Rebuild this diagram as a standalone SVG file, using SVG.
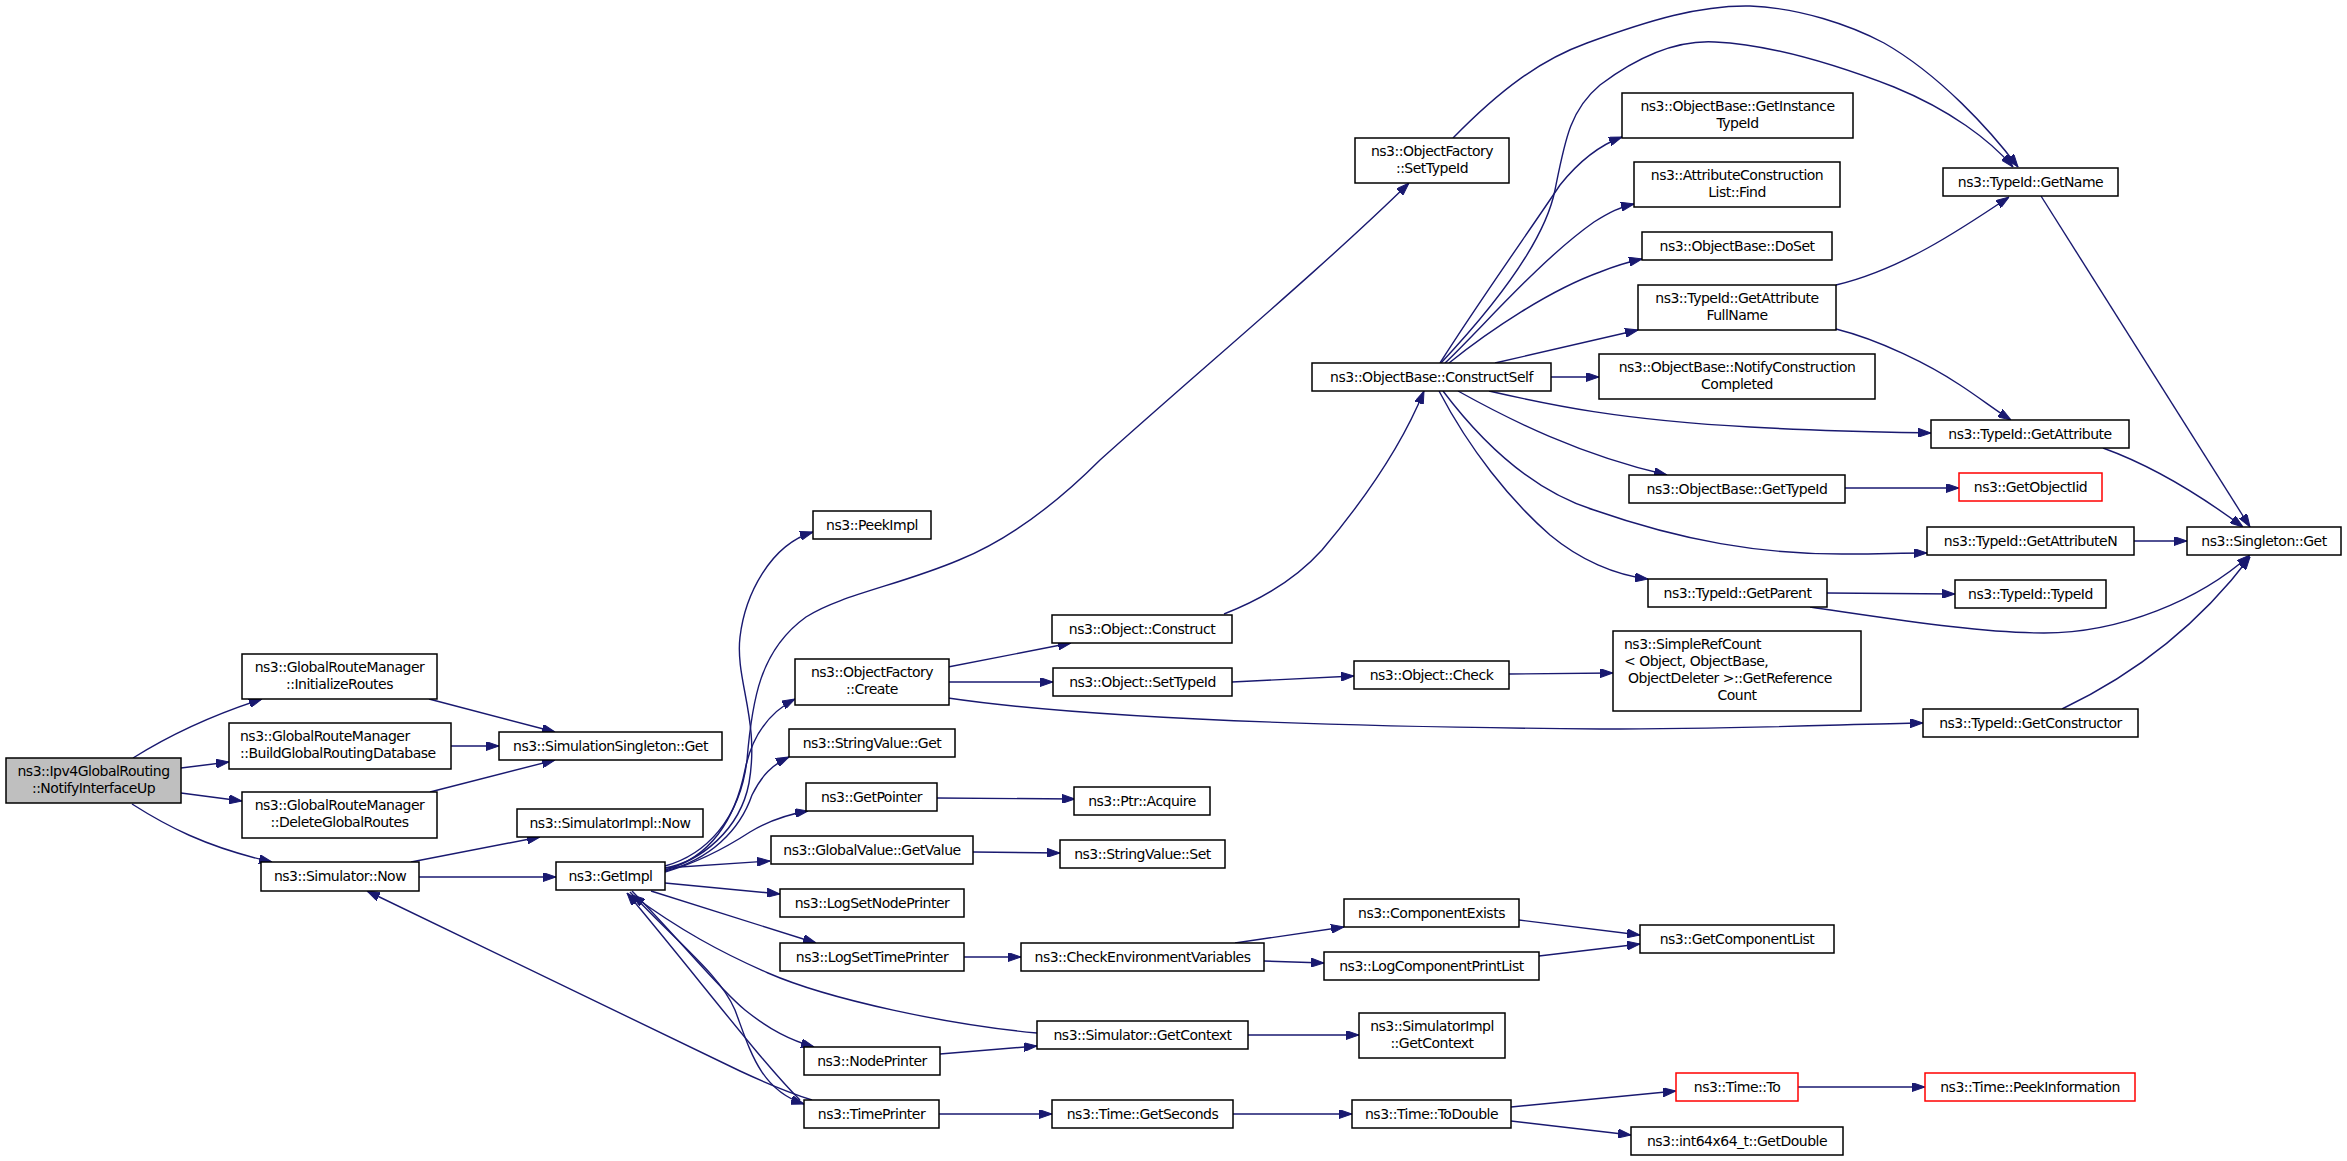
<svg xmlns="http://www.w3.org/2000/svg" width="2347" height="1161" viewBox="0 0 2347 1161">
<defs>
<marker id="ah" viewBox="0 0 13 9" refX="13" refY="4.5" markerWidth="13" markerHeight="9" markerUnits="userSpaceOnUse" orient="auto">
<path d="M0,0 L13,4.5 L0,9 z" fill="#191970" stroke="#191970" stroke-width="1"/>
</marker>
<style>
.n rect{fill:#ffffff;stroke:#000000;stroke-width:1.5}
.n.root rect{fill:#bfbfbf}
.n.red rect{stroke:#ff0000}
.n text{font-family:"DejaVu Sans","Liberation Sans",sans-serif;font-size:14px;letter-spacing:-0.5px;fill:#000000;text-anchor:middle}
.n text.l{text-anchor:start}
#edges path{fill:none;stroke:#191970;stroke-width:1.4;marker-end:url(#ah)}
</style>
</defs>
<rect x="0" y="0" width="2347" height="1161" fill="#ffffff"/>
<g id="edges">
<path d="M133,758 C160,741 200,719 262,699"/>
<path d="M181,768 L229,762"/>
<path d="M181,793 L242,801"/>
<path d="M132,804 C165,825 205,847 272,862"/>
<path d="M429,699 L555,732"/>
<path d="M451,746 L499,746"/>
<path d="M430,792 L555,760"/>
<path d="M411,862 L540,837"/>
<path d="M419,877 L556,877"/>
<path d="M812,1100 C790,1093 770,1085 740,1071 L367,891"/>
<path d="M665,868 C700,862 740,830 749,783 C760,720 735,680 740,637 C745,595 770,545 813,532"/>
<path d="M665,866 C705,855 740,820 747,760 C752,700 760,650 806,617 C840,595 900,585 959,560 C1020,535 1070,490 1100,460 C1200,370 1320,270 1409,183"/>
<path d="M665,870 C710,858 735,820 745,770 C752,735 770,712 795,699"/>
<path d="M665,871 C710,860 740,830 752,795 C762,775 772,765 789,757"/>
<path d="M665,872 C700,862 730,845 750,832 C770,820 790,814 808,811"/>
<path d="M665,868 L770,861"/>
<path d="M665,883 L780,894"/>
<path d="M651,891 L816,943"/>
<path d="M632,891 C680,940 720,990 745,1010 C770,1030 790,1040 814,1047"/>
<path d="M630,892 C680,945 720,975 735,1010 C750,1050 760,1090 804,1104"/>
<path d="M800,1100 C760,1060 700,980 627,893"/>
<path d="M1037,1033 C950,1025 830,1000 768,973 C720,952 680,930 632,895"/>
<path d="M948,667 L1071,643"/>
<path d="M948,682 L1053,682"/>
<path d="M948,698 C1050,713 1250,726 1600,729 C1750,729 1850,724 1923,723"/>
<path d="M1224,614 C1260,600 1295,580 1322,550 C1360,505 1400,450 1424,391"/>
<path d="M1232,682 L1354,676"/>
<path d="M1509,674 L1613,673"/>
<path d="M1453,138 C1500,90 1540,60 1587,43 C1650,20 1700,5 1750,6 C1800,8 1850,25 1884,43 C1940,75 1990,130 2018,167"/>
<path d="M1441,363 C1500,300 1545,240 1555,190 C1565,140 1570,110 1600,85 C1640,55 1680,40 1715,42 C1780,45 1850,70 1894,87 C1950,110 1990,140 2013,167"/>
<path d="M1440,363 C1480,300 1530,230 1560,185 C1580,160 1600,145 1622,137"/>
<path d="M1445,363 C1480,330 1540,260 1594,222 C1610,212 1620,207 1634,204"/>
<path d="M1449,363 C1490,330 1550,290 1600,272 C1615,266 1628,262 1642,259"/>
<path d="M1495,363 L1638,330"/>
<path d="M1551,377 L1599,377"/>
<path d="M1489,391 C1550,405 1620,420 1750,427 C1820,431 1880,432 1931,433"/>
<path d="M1458,391 C1510,420 1580,455 1667,475"/>
<path d="M1443,391 C1480,440 1530,490 1594,510 C1680,540 1760,555 1850,554 C1880,554 1900,553 1927,553"/>
<path d="M1439,391 C1470,450 1510,500 1550,535 C1580,560 1615,575 1648,579"/>
<path d="M1836,285 C1900,270 1960,230 2009,197"/>
<path d="M1836,329 C1880,340 1930,365 1960,385 C1980,398 1995,410 2011,420"/>
<path d="M2041,196 L2250,527"/>
<path d="M2103,448 C2150,465 2200,495 2243,527"/>
<path d="M2134,541 L2187,541"/>
<path d="M1845,488 L1959,488"/>
<path d="M1827,593 L1955,594"/>
<path d="M1810,607 C1900,620 1980,633 2044,633 C2120,633 2200,600 2250,555"/>
<path d="M2062,709 C2150,667 2210,610 2250,557"/>
<path d="M937,798 L1075,799"/>
<path d="M973,852 L1060,853"/>
<path d="M964,957 L1021,957"/>
<path d="M1235,943 L1344,927"/>
<path d="M1264,961 L1324,963"/>
<path d="M1519,920 L1640,935"/>
<path d="M1539,956 L1640,944"/>
<path d="M940,1054 L1037,1046"/>
<path d="M1248,1035 L1359,1035"/>
<path d="M939,1114 L1052,1114"/>
<path d="M1233,1114 L1352,1114"/>
<path d="M1511,1107 L1676,1091"/>
<path d="M1511,1121 L1631,1135"/>
<path d="M1798,1087 L1925,1087"/>
</g>
<g id="n_ipv4" class="n root"><rect x="6" y="758" width="175" height="45"/><text x="93.5" y="775.5">ns3::Ipv4GlobalRouting</text><text x="93.5" y="792.5">::NotifyInterfaceUp</text></g>
<g id="n_initroutes" class="n"><rect x="242" y="654" width="195" height="45"/><text x="339.5" y="671.5">ns3::GlobalRouteManager</text><text x="339.5" y="688.5">::InitializeRoutes</text></g>
<g id="n_builddb" class="n"><rect x="229" y="723" width="222" height="46"/><text class="l" x="240" y="740.5">ns3::GlobalRouteManager</text><text class="l" x="240" y="757.5">::BuildGlobalRoutingDatabase</text></g>
<g id="n_deleteroutes" class="n"><rect x="242" y="792" width="195" height="46"/><text x="339.5" y="809.5">ns3::GlobalRouteManager</text><text x="339.5" y="826.5">::DeleteGlobalRoutes</text></g>
<g id="n_simsingleton" class="n"><rect x="499" y="732" width="223" height="28"/><text x="610.5" y="751">ns3::SimulationSingleton::Get</text></g>
<g id="n_simnow" class="n"><rect x="261" y="862" width="158" height="29"/><text x="340" y="881">ns3::Simulator::Now</text></g>
<g id="n_simimplnow" class="n"><rect x="517" y="809" width="186" height="28"/><text x="610" y="828">ns3::SimulatorImpl::Now</text></g>
<g id="n_getimpl" class="n"><rect x="556" y="862" width="109" height="28"/><text x="610.5" y="881">ns3::GetImpl</text></g>
<g id="n_peekimpl" class="n"><rect x="813" y="511" width="118" height="28"/><text x="872" y="530">ns3::PeekImpl</text></g>
<g id="n_ofcreate" class="n"><rect x="795" y="659" width="154" height="46"/><text x="872" y="676.5">ns3::ObjectFactory</text><text x="872" y="693.5">::Create</text></g>
<g id="n_svget" class="n"><rect x="789" y="729" width="166" height="28"/><text x="872" y="748">ns3::StringValue::Get</text></g>
<g id="n_getpointer" class="n"><rect x="806" y="783" width="131" height="28"/><text x="871.5" y="802">ns3::GetPointer</text></g>
<g id="n_gvgetvalue" class="n"><rect x="771" y="836" width="202" height="28"/><text x="872" y="855">ns3::GlobalValue::GetValue</text></g>
<g id="n_logsetnode" class="n"><rect x="780" y="889" width="184" height="28"/><text x="872" y="908">ns3::LogSetNodePrinter</text></g>
<g id="n_logsettime" class="n"><rect x="780" y="943" width="184" height="28"/><text x="872" y="962">ns3::LogSetTimePrinter</text></g>
<g id="n_nodeprinter" class="n"><rect x="804" y="1047" width="136" height="28"/><text x="872" y="1066">ns3::NodePrinter</text></g>
<g id="n_timeprinter" class="n"><rect x="804" y="1100" width="135" height="28"/><text x="871.5" y="1119">ns3::TimePrinter</text></g>
<g id="n_ofsettypeid" class="n"><rect x="1355" y="138" width="154" height="45"/><text x="1432" y="155.5">ns3::ObjectFactory</text><text x="1432" y="172.5">::SetTypeId</text></g>
<g id="n_objconstruct" class="n"><rect x="1052" y="615" width="180" height="28"/><text x="1142" y="634">ns3::Object::Construct</text></g>
<g id="n_objsettypeid" class="n"><rect x="1053" y="668" width="179" height="28"/><text x="1142.5" y="687">ns3::Object::SetTypeId</text></g>
<g id="n_ptracquire" class="n"><rect x="1074" y="787" width="136" height="28"/><text x="1142" y="806">ns3::Ptr::Acquire</text></g>
<g id="n_svset" class="n"><rect x="1060" y="840" width="165" height="28"/><text x="1142.5" y="859">ns3::StringValue::Set</text></g>
<g id="n_checkenv" class="n"><rect x="1021" y="943" width="243" height="28"/><text x="1142.5" y="962">ns3::CheckEnvironmentVariables</text></g>
<g id="n_simgetcontext" class="n"><rect x="1037" y="1021" width="211" height="28"/><text x="1142.5" y="1040">ns3::Simulator::GetContext</text></g>
<g id="n_getseconds" class="n"><rect x="1052" y="1100" width="181" height="28"/><text x="1142.5" y="1119">ns3::Time::GetSeconds</text></g>
<g id="n_constructself" class="n"><rect x="1312" y="363" width="239" height="28"/><text x="1431.5" y="382">ns3::ObjectBase::ConstructSelf</text></g>
<g id="n_objcheck" class="n"><rect x="1354" y="661" width="155" height="28"/><text x="1431.5" y="680">ns3::Object::Check</text></g>
<g id="n_compexists" class="n"><rect x="1344" y="899" width="175" height="28"/><text x="1431.5" y="918">ns3::ComponentExists</text></g>
<g id="n_logcompprint" class="n"><rect x="1324" y="952" width="215" height="28"/><text x="1431.5" y="971">ns3::LogComponentPrintList</text></g>
<g id="n_simimplgetcontext" class="n"><rect x="1359" y="1013" width="146" height="45"/><text x="1432" y="1030.5">ns3::SimulatorImpl</text><text x="1432" y="1047.5">::GetContext</text></g>
<g id="n_todouble" class="n"><rect x="1352" y="1100" width="159" height="28"/><text x="1431.5" y="1119">ns3::Time::ToDouble</text></g>
<g id="n_getinstancetypeid" class="n"><rect x="1622" y="93" width="231" height="45"/><text x="1737.5" y="110.5">ns3::ObjectBase::GetInstance</text><text x="1737.5" y="127.5">TypeId</text></g>
<g id="n_acfind" class="n"><rect x="1634" y="162" width="206" height="45"/><text x="1737" y="179.5">ns3::AttributeConstruction</text><text x="1737" y="196.5">List::Find</text></g>
<g id="n_doset" class="n"><rect x="1642" y="232" width="190" height="28"/><text x="1737" y="251">ns3::ObjectBase::DoSet</text></g>
<g id="n_getattrfullname" class="n"><rect x="1638" y="285" width="198" height="45"/><text x="1737" y="302.5">ns3::TypeId::GetAttribute</text><text x="1737" y="319.5">FullName</text></g>
<g id="n_notifycc" class="n"><rect x="1599" y="354" width="276" height="45"/><text x="1737" y="371.5">ns3::ObjectBase::NotifyConstruction</text><text x="1737" y="388.5">Completed</text></g>
<g id="n_obgettypeid" class="n"><rect x="1629" y="475" width="216" height="28"/><text x="1737" y="494">ns3::ObjectBase::GetTypeId</text></g>
<g id="n_getparent" class="n"><rect x="1648" y="579" width="179" height="28"/><text x="1737.5" y="598">ns3::TypeId::GetParent</text></g>
<g id="n_simplerefcount" class="n"><rect x="1613" y="631" width="248" height="80"/><text class="l" x="1624" y="649">ns3::SimpleRefCount</text><text class="l" x="1624" y="666">&lt; Object, ObjectBase,</text><text class="l" x="1628" y="683">ObjectDeleter &gt;::GetReference</text><text x="1737" y="700">Count</text></g>
<g id="n_getcomplist" class="n"><rect x="1640" y="925" width="194" height="28"/><text x="1737" y="944">ns3::GetComponentList</text></g>
<g id="n_timeto" class="n red"><rect x="1676" y="1073" width="122" height="28"/><text x="1737" y="1092">ns3::Time::To</text></g>
<g id="n_getdouble" class="n"><rect x="1631" y="1127" width="212" height="28"/><text x="1737" y="1146">ns3::int64x64_t::GetDouble</text></g>
<g id="n_getname" class="n"><rect x="1943" y="168" width="175" height="28"/><text x="2030.5" y="187">ns3::TypeId::GetName</text></g>
<g id="n_getattribute" class="n"><rect x="1931" y="420" width="198" height="28"/><text x="2030" y="439">ns3::TypeId::GetAttribute</text></g>
<g id="n_getobjectiid" class="n red"><rect x="1959" y="473" width="143" height="28"/><text x="2030.5" y="492">ns3::GetObjectIid</text></g>
<g id="n_getattributen" class="n"><rect x="1927" y="527" width="207" height="28"/><text x="2030.5" y="546">ns3::TypeId::GetAttributeN</text></g>
<g id="n_typeidtypeid" class="n"><rect x="1955" y="580" width="151" height="28"/><text x="2030.5" y="599">ns3::TypeId::TypeId</text></g>
<g id="n_getconstructor" class="n"><rect x="1923" y="709" width="215" height="28"/><text x="2030.5" y="728">ns3::TypeId::GetConstructor</text></g>
<g id="n_peekinfo" class="n red"><rect x="1925" y="1073" width="210" height="28"/><text x="2030" y="1092">ns3::Time::PeekInformation</text></g>
<g id="n_singletonget" class="n"><rect x="2187" y="527" width="154" height="28"/><text x="2264" y="546">ns3::Singleton::Get</text></g>
</svg>
